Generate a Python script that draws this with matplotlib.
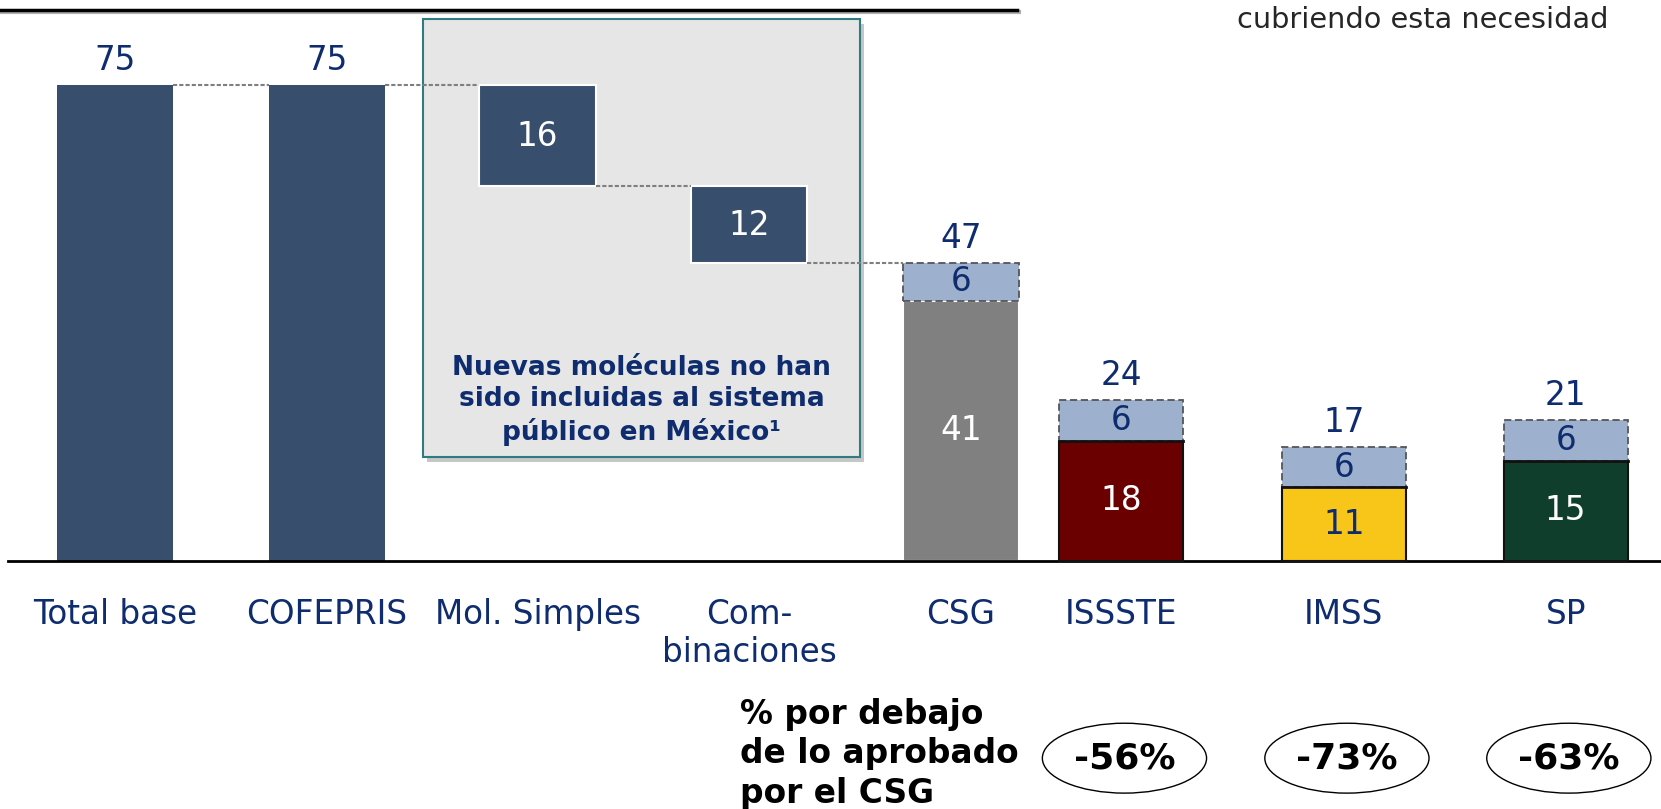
import matplotlib.pyplot as plt
from matplotlib.patches import Rectangle, Ellipse

# data
categories = ['Total base', 'COFEPRIS', 'Mol. Simples', 'Com-\nbinaciones', 'CSG',
              'ISSSTE', 'IMSS', 'SP']
total_base = 75
cofepris = 75
mol_simples = 16
combinaciones = 12
csg_base = 41
new_molecules = 6
institutions = ['ISSSTE', 'IMSS', 'SP']
inst_values = [18, 11, 15]
inst_extra = [6, 6, 6]

# layout (pixel-like x units of the slide)
x_pos = [108.5, 308.5, 507.5, 707, 907, 1058.5, 1268.5, 1478]
w_left = 110
w_right = 117

NAVY_TXT = '#0E2C6E'
BAR_DARK = '#384E6D'
LIGHT = '#9DB1CF'
INST_COLORS = ['#6B0000', '#F8C619', '#0F3F2C']
INST_TXT = ['white', NAVY_TXT, 'white']
FS = 23.5

plt.rcParams['font.family'] = ['DejaVu Sans']

fig = plt.figure(figsize=(16.61, 8.09), dpi=100)
ax = fig.add_axes([0, 0, 1, 1])
ax.set_xlim(0, 1568)
ax.set_ylim(-(764 - 530) / 6, 530 / 6)
ax.axis('off')

# second axis for the institutions group (slightly different scale in the source)
ax2 = fig.add_axes([0, 0, 1, 1])
ax2.set_xlim(0, 1568)
ax2.set_ylim(-(764 - 530) / 6.33, 530 / 6.33)
ax2.axis('off')
ax2.patch.set_alpha(0)

# grey highlight box
bx0, bx1, by0, by1 = 399, 812, 16.33, 85.33
ax.add_patch(Rectangle((bx0 + 4, by0 - 0.7), bx1 - bx0, by1 - by0, facecolor='#A0A0A0',
                       edgecolor='none', alpha=0.6, zorder=0))
ax.add_patch(Rectangle((bx0, by0), bx1 - bx0, by1 - by0, facecolor='#E6E6E6',
                       edgecolor='#2F7B7F', lw=1.5, zorder=1))
ax.text((bx0 + bx1) / 2, 25.3, 'Nuevas moléculas no han\nsido incluidas al sistema\npúblico en México¹',
        ha='center', va='center', fontsize=19, fontweight='bold', color=NAVY_TXT,
        linespacing=1.27, zorder=3)

# waterfall
ax.bar(x_pos[0], total_base, width=w_left, color=BAR_DARK, zorder=2)
ax.bar(x_pos[1], cofepris, width=w_left, color=BAR_DARK, zorder=2)
mol_bottom = cofepris - mol_simples
comb_bottom = mol_bottom - combinaciones
ax.bar(x_pos[2], mol_simples, bottom=mol_bottom, width=w_left, color=BAR_DARK,
       edgecolor='white', lw=1.5, zorder=2)
ax.bar(x_pos[3], combinaciones, bottom=comb_bottom, width=w_left, color=BAR_DARK,
       edgecolor='white', lw=1.5, zorder=2)
ax.bar(x_pos[4], csg_base, width=w_left, color='#808080', edgecolor='white', lw=1.5, zorder=2)
ax.bar(x_pos[4], new_molecules, bottom=csg_base, width=w_left, color=LIGHT,
       edgecolor='#555555', lw=1.3, ls=(0, (4, 2)), zorder=2)

for v, x in [(total_base, x_pos[0]), (cofepris, x_pos[1]), (csg_base + new_molecules, x_pos[4])]:
    ax.text(x, v + 3.8, str(v), ha='center', va='center', fontsize=FS, color=NAVY_TXT)
ax.text(x_pos[2], mol_bottom + mol_simples / 2 - 0.2, str(mol_simples), ha='center', va='center',
        fontsize=FS, color='white', zorder=3)
ax.text(x_pos[3], comb_bottom + combinaciones / 2 - 0.2, str(combinaciones), ha='center',
        va='center', fontsize=FS, color='white', zorder=3)
ax.text(x_pos[4], csg_base / 2, str(csg_base), ha='center', va='center', fontsize=FS,
        color='white')
ax.text(x_pos[4], csg_base + new_molecules / 2, str(new_molecules), ha='center', va='center',
        fontsize=FS, color=NAVY_TXT, zorder=3)

# connectors
conn = dict(color='#7F7F7F', lw=1.5, ls=(0, (2, 1)), zorder=2)
steps = [cofepris, cofepris, mol_bottom, comb_bottom]
for i, y in enumerate(steps):
    ax.plot([x_pos[i] + w_left / 2, x_pos[i + 1] - w_left / 2], [y, y], **conn)

# institutions
for i, name in enumerate(institutions):
    x = x_pos[5 + i]
    v = inst_values[i]
    e = inst_extra[i]
    ax2.bar(x, v, width=w_right, color=INST_COLORS[i], edgecolor='#111111', lw=1.5, zorder=2)
    ax2.bar(x, e, bottom=v, width=w_right, color=LIGHT, edgecolor='#555555', lw=1.3,
            ls=(0, (4, 2)), zorder=2)
    ax2.plot([x - w_right / 2, x + w_right / 2], [v, v], color='#111111', lw=2, zorder=3)
    ax2.text(x, v / 2, str(v), ha='center', va='center', fontsize=FS, color=INST_TXT[i], zorder=3)
    ax2.text(x, v + e / 2, str(e), ha='center', va='center', fontsize=FS, color=NAVY_TXT, zorder=3)
    ax2.text(x, v + e + 3.7, str(v + e), ha='center', va='center', fontsize=FS, color=NAVY_TXT)

# category labels
for x, lab in zip(x_pos, categories):
    ax.text(x, -5.75, lab, ha='center', va='top', fontsize=FS, color=NAVY_TXT, linespacing=1.22)

# baseline and top rule
ax.plot([8, 1568], [0, 0], color='black', lw=2, zorder=4)
ax.plot([0, 962], [86.45, 86.45], color='#B0B0B0', lw=3, zorder=4)
ax.plot([0, 960], [86.7, 86.7], color='black', lw=2.5, zorder=4)
ax.text(1168, 85.2, 'cubriendo esta necesidad', ha='left', va='center', fontsize=20.7,
        color='#262626')

# % below CSG
ax.text(699, -30.3, '% por debajo\nde lo aprobado\npor el CSG', ha='left', va='center',
        fontsize=23.7, fontweight='bold', color='black', linespacing=1.25)
for i, x in enumerate(x_pos[5:]):
    pct = round((inst_values[i] / csg_base - 1) * 100)
    ax.add_patch(Ellipse((x + 3, -31), 155, 11, facecolor='white', edgecolor='black', lw=1))
    ax.text(x + 3, -31, f'{pct}%', ha='center', va='center', fontsize=26, fontweight='bold',
            color='black')

fig.savefig('out.png', dpi=100)
